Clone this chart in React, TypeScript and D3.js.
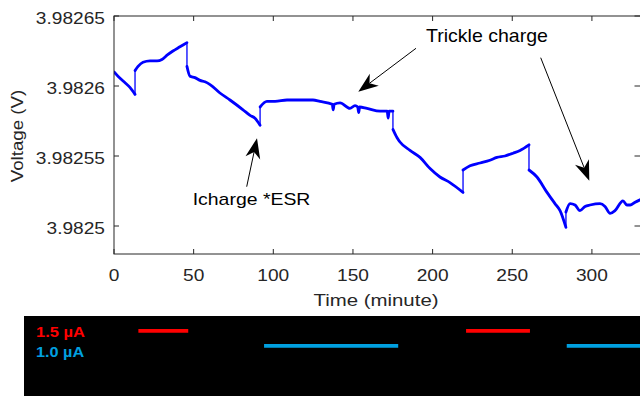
import React from "react";
import * as d3 from "d3";

// ---- data ----
const timeMin = [
  0, 2.5, 6.3, 10.0, 13.2,
  13.2, 15.1, 18.2, 22.6, 27.0, 30.1, 33.3, 37.0, 41.4, 45.8,
  45.8, 47.7, 50.8, 54.0, 57.1, 60.3, 66.5, 72.8, 81.0, 85.4, 88.5, 91.7,
  91.7, 96.0, 101.1, 108.6, 116.8, 124.9, 129.3, 137.0, 137.6, 138.2, 141.9, 148.1, 151.3, 153.0, 153.6, 154.2, 158.8, 167.0, 171.5, 172.1, 172.7, 175.1,
  175.1, 177.7, 179.5, 185.8, 192.1, 198.4, 204.6, 210.9, 219.1,
  219.1, 223.5, 229.8, 236.0, 240.4, 245.4, 250.5, 254.9, 260.5,
  260.5, 265.5, 271.8, 276.8, 280.0, 283.7,
  283.7, 286.3, 289.4, 292.5, 295.7, 298.8, 305.1, 308.2, 311.4, 314.5, 319.5, 322.0, 324.0, 327.1, 330.8,
];
const voltage = [
  3.98261, 3.982607, 3.982603, 3.982599, 3.982594,
  3.982611, 3.982614, 3.982617, 3.982618, 3.982618, 3.982619, 3.982622, 3.982625, 3.982628, 3.982631,
  3.982614, 3.982607, 3.982606, 3.982604, 3.982603, 3.982601, 3.982595, 3.98259, 3.982583, 3.982579, 3.982577, 3.982572,
  3.982585, 3.982589, 3.982589, 3.98259, 3.98259, 3.98259, 3.982589, 3.982587, 3.982583, 3.982587, 3.982588, 3.982584, 3.982586, 3.982585, 3.982581, 3.982585, 3.982584, 3.982582, 3.982582, 3.982577, 3.982582, 3.982582,
  3.982569, 3.982563, 3.98256, 3.982554, 3.982549, 3.982541, 3.982535, 3.982531, 3.982524,
  3.98254, 3.982543, 3.982545, 3.982547, 3.982549, 3.98255, 3.982552, 3.982554, 3.982558,
  3.98254, 3.982535, 3.982524, 3.982516, 3.982511, 3.982499,
  3.98251, 3.982516, 3.982515, 3.982511, 3.982514, 3.982515, 3.982516, 3.982514, 3.982509, 3.982511, 3.982518, 3.982515, 3.982515, 3.982517, 3.982519,
];

const xTicks = [0, 50, 100, 150, 200, 250, 300];
const yTicks = [3.9825, 3.98255, 3.9826, 3.98265];
const yTickLabels = ["3.9825", "3.98255", "3.9826", "3.98265"];

// current pulses (time intervals, minutes)
const redStart = [15.3, 221.0];
const redEnd = [46.6, 261.1];
const blueStart = [94.2, 284.2];
const blueEnd = [178.4, 331];

const FONT = "'Liberation Sans', Arial, Helvetica, sans-serif";
const AX = "#262626";

function T(props: any) {
  const { x, y, fs, sx = 1, anchor = "start", fill = AX, weight = "normal", rotate, children } = props;
  const tr = `translate(${x},${y})${rotate ? ` rotate(${rotate})` : ""} scale(${sx},1)`;
  return (
    <text transform={tr} fontSize={fs} textAnchor={anchor} fill={fill} fontWeight={weight} fontFamily={FONT}>
      {children}
    </text>
  );
}

function Arrow({ x1, y1, x2, y2 }: any) {
  const dx = x2 - x1, dy = y2 - y1;
  const L = Math.hypot(dx, dy);
  const ux = dx / L, uy = dy / L;
  const px = -uy, py = ux;
  const hl = 20, hw = 7.5, notch = 14;
  const bx = x2 - ux * hl, by = y2 - uy * hl;
  const nx = x2 - ux * notch, ny = y2 - uy * notch;
  const pts = [
    [x2, y2],
    [bx + px * hw, by + py * hw],
    [nx, ny],
    [bx - px * hw, by - py * hw],
  ];
  return (
    <g>
      <line x1={x1} y1={y1} x2={nx} y2={ny} stroke="#000" strokeWidth={1} />
      <polygon points={pts.map((p) => p.join(",")).join(" ")} fill="#000" />
    </g>
  );
}

export default function App() {
  const W = 640, H = 396;
  const left = 114, right = 640.5, top = 16, bottom = 254;
  const x = d3.scaleLinear().domain([0, 330.5]).range([left, right]);
  const y = d3.scaleLinear().domain([3.98248, 3.98265]).range([bottom, top]);
  const pts = timeMin.map((t, i) => [t, voltage[i]] as [number, number]);

  // split into continuous segments at vertical steps
  const segments: [number, number][][] = [];
  const jumps: [[number, number], [number, number]][] = [];
  let cur: [number, number][] = [];
  pts.forEach((p, i) => {
    if (i > 0 && p[0] === pts[i - 1][0]) {
      segments.push(cur);
      jumps.push([pts[i - 1], p]);
      cur = [];
    }
    cur.push(p);
  });
  segments.push(cur);

  const line = d3
    .line<[number, number]>()
    .x((d) => x(d[0]))
    .y((d) => y(d[1]))
    .curve(d3.curveMonotoneX);

  return (
    <svg width={W} height={H} style={{ position: "absolute", left: 0, top: 0, background: "#fff" }}>
      <defs>
        <clipPath id="plotclip">
          <rect x={left} y={top} width={right - left} height={bottom - top} />
        </clipPath>
      </defs>
      <rect x={0} y={0} width={W} height={H} fill="#fff" />

      {/* data line */}
      <g clipPath="url(#plotclip)">
        {jumps.map((j, i) => (
          <line key={"j" + i} x1={x(j[0][0])} x2={x(j[1][0])} y1={y(j[0][1])} y2={y(j[1][1])} stroke="#0000ff" strokeWidth={1.3} />
        ))}
        {segments.map((s, i) => (
          <path key={"s" + i} d={line(s) || ""} fill="none" stroke="#0000ff" strokeWidth={2.8} strokeLinejoin="round" strokeLinecap="round" />
        ))}
      </g>

      {/* axes box */}
      <rect x={left} y={top} width={right - left} height={bottom - top} fill="none" stroke={AX} strokeWidth={1} />
      {xTicks.map((t) => (
        <g key={"xt" + t}>
          <line x1={x(t)} x2={x(t)} y1={bottom} y2={bottom - 5} stroke={AX} />
          <line x1={x(t)} x2={x(t)} y1={top} y2={top + 5} stroke={AX} />
          <T x={x(t)} y={281} fs={16.5} sx={1.16} anchor="middle">{String(t)}</T>
        </g>
      ))}
      {yTicks.map((v, i) => (
        <g key={"yt" + v}>
          <line x1={left} x2={left + 5} y1={y(v)} y2={y(v)} stroke={AX} />
          <line x1={right - 6} x2={right} y1={y(v)} y2={y(v)} stroke={AX} />
          <T x={105} y={y(v) + 7.8} fs={16.5} sx={1.16} anchor="end">{yTickLabels[i]}</T>
        </g>
      ))}
      <T x={376} y={305.7} fs={17.3} sx={1.18} anchor="middle">Time (minute)</T>
      <T x={23} y={136} fs={17} sx={1.1} anchor="middle" rotate={-90}>Voltage (V)</T>

      {/* annotations */}
      <Arrow x1={246.7} y1={186.7} x2={257} y2={138.3} />
      <Arrow x1={416} y1={48.3} x2={358.3} y2={91.7} />
      <Arrow x1={540.7} y1={57.7} x2={589.3} y2={180.7} />
      <T x={426} y={41.7} fs={18.6} sx={1.05} fill="#000">Trickle charge</T>
      <T x={192.7} y={205} fs={17.2} sx={1.13} fill="#000">Icharge *ESR</T>

      {/* current panel */}
      <rect x={24} y={316} width={W - 24} height={H - 316} fill="#000" />
      {redStart.map((s, i) => (
        <line key={"r" + i} x1={x(s)} x2={Math.min(x(redEnd[i]), W)} y1={330.8} y2={330.8} stroke="#ff0000" strokeWidth={3.8} />
      ))}
      {blueStart.map((s, i) => (
        <line key={"b" + i} x1={x(s)} x2={Math.min(x(blueEnd[i]), W)} y1={345.8} y2={345.8} stroke="#00a0e0" strokeWidth={3.8} />
      ))}
      <T x={36} y={336.7} fs={15} sx={1.1} fill="#ff0000" weight="bold">1.5 µA</T>
      <T x={36} y={356.7} fs={14.5} sx={1.12} fill="#00a0e0" weight="bold">1.0 µA</T>
    </svg>
  );
}
